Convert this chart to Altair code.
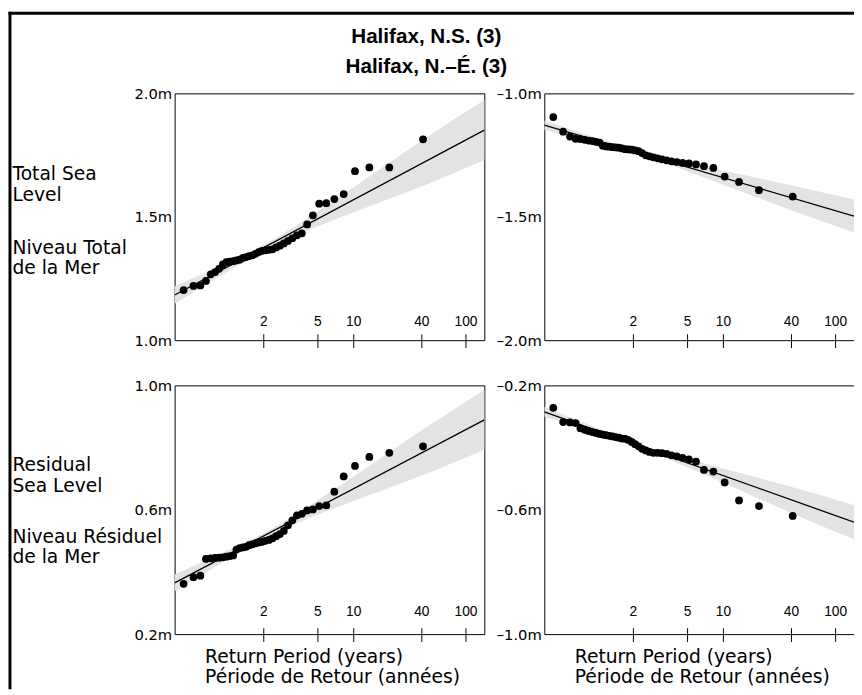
import altair as alt
import numpy as np
import pandas as pd

# ---------------- data ----------------
N_YEARS = 40
RETURN_PERIODS = [2, 5, 10, 40, 100]
TICK_LABELS = ["2", "5", "10", "40", "100"]

TITLE_TEXT = "Halifax, N.S. (3)\nHalifax, N.–É. (3)"
ROW_TOP_EN = "Total Sea\nLevel"
ROW_TOP_FR = "Niveau Total\nde la Mer"
ROW_BOT_EN = "Residual\nSea Level"
ROW_BOT_FR = "Niveau Résiduel\nde la Mer"
X_TITLE = "Return Period (years)\nPériode de Retour (années)"

# annual extremes, sorted by rank (1 = smallest return period)
total_high = [1.203, 1.220, 1.222, 1.240, 1.267, 1.276, 1.289, 1.307, 1.316, 1.318,
              1.320, 1.323, 1.326, 1.333, 1.337, 1.341, 1.344, 1.350, 1.357, 1.362,
              1.364, 1.366, 1.368, 1.376, 1.383, 1.392, 1.402, 1.413, 1.425, 1.433,
              1.469, 1.506, 1.553, 1.555, 1.572, 1.592, 1.685, 1.700, 1.700, 1.814]
total_low = [-1.096, -1.155, -1.175, -1.184, -1.185, -1.188, -1.191, -1.193, -1.196, -1.199,
             -1.212, -1.215, -1.216, -1.218, -1.219, -1.220, -1.223, -1.226, -1.227, -1.228,
             -1.231, -1.234, -1.242, -1.251, -1.255, -1.259, -1.263, -1.267, -1.271, -1.275,
             -1.278, -1.282, -1.284, -1.288, -1.295, -1.302, -1.337, -1.359, -1.392, -1.418]
resid_high = [0.362, 0.383, 0.388, 0.442, 0.444, 0.445, 0.446, 0.447, 0.449, 0.451,
              0.453, 0.472, 0.477, 0.479, 0.481, 0.486, 0.489, 0.492, 0.495, 0.497,
              0.500, 0.503, 0.508, 0.515, 0.522, 0.532, 0.550, 0.566, 0.582, 0.587,
              0.598, 0.601, 0.612, 0.614, 0.658, 0.707, 0.741, 0.770, 0.783, 0.804]
resid_low = [-0.272, -0.318, -0.319, -0.321, -0.338, -0.343, -0.347, -0.350, -0.353, -0.356,
             -0.358, -0.360, -0.362, -0.364, -0.366, -0.368, -0.371, -0.372, -0.376, -0.382,
             -0.389, -0.396, -0.404, -0.409, -0.414, -0.417, -0.417, -0.418, -0.420, -0.425,
             -0.428, -0.433, -0.438, -0.445, -0.472, -0.477, -0.512, -0.570, -0.588, -0.620]

# fitted Gumbel lines (value at left and right edge of the reduced-variate axis)
FIT_X = [-1.5, 4.985]
fit_total_high = [1.183, 1.851]
fit_total_low = [-1.129, -1.497]
fit_resid_high = [0.365, 0.889]
fit_resid_low = [-0.285, -0.640]

# confidence bands
BAND_X = [-1.5, -0.5, 0.5, 1.5, 2.5, 3.5, 5.0]
band_total_high_lo = [1.148, 1.266, 1.377, 1.462, 1.537, 1.610, 1.731]
band_total_high_hi = [1.218, 1.306, 1.401, 1.522, 1.653, 1.786, 1.975]
band_total_low_lo = [-1.148, -1.197, -1.250, -1.316, -1.388, -1.461, -1.565]
band_total_low_hi = [-1.110, -1.175, -1.236, -1.283, -1.324, -1.365, -1.431]
band_resid_high_lo = [0.338, 0.430, 0.518, 0.584, 0.643, 0.700, 0.794]
band_resid_high_hi = [0.392, 0.462, 0.536, 0.631, 0.733, 0.838, 0.986]
band_resid_low_lo = [-0.301, -0.349, -0.401, -0.463, -0.530, -0.599, -0.696]
band_resid_low_hi = [-0.269, -0.331, -0.390, -0.436, -0.478, -0.519, -0.586]

# ---------------- Gumbel probability axis ----------------
ranks = np.arange(1, N_YEARS + 1)
rv_points = list(-np.log(-np.log(ranks / (N_YEARS + 1.0))))
rv_ticks = [float(-np.log(-np.log(1.0 - 1.0 / T))) for T in RETURN_PERIODS]

W = 315
H_TOP = 251
H_BOT = 253
X_DOM = [-1.5, 4.985]
X_SCALE = alt.Scale(domain=X_DOM, nice=False, zero=False)
LABEL_EXPR = "(datum.value < 0 ? '\u2013' : '') + format(abs(datum.value), '.1f') + 'm'"
BAND_COLOR = "#e3e3e3"


def text_layer(txt, x, y, **kw):
    return alt.Chart(pd.DataFrame({"t": [txt]})).mark_text(lineBreak="\n", **kw).encode(
        x=alt.value(x), y=alt.value(y), text="t:N")


def panel(values, fit_vals, band_lo, band_hi, y_dom, y_ticks, h, tick_lab_off, extras):
    ys = alt.Scale(domain=y_dom, nice=False, zero=False)
    yaxis = alt.Axis(values=y_ticks, labelExpr=LABEL_EXPR, ticks=False, domain=False,
                     grid=False, labelPadding=3, labelFont="DejaVu Sans", labelFontSize=15,
                     labelColor="black", labelFlush=False, title=None)
    x_enc = alt.X("rv:Q", scale=X_SCALE, axis=None)
    band = alt.Chart(pd.DataFrame({"rv": BAND_X, "lo": band_lo, "hi": band_hi})).mark_area(
        color=BAND_COLOR, interpolate="monotone", clip=True, opacity=1).encode(
        x=x_enc, y=alt.Y("lo:Q", scale=ys, axis=yaxis), y2="hi:Q")
    fit = alt.Chart(pd.DataFrame({"rv": FIT_X, "v": fit_vals})).mark_line(
        color="black", strokeWidth=1.3, clip=True).encode(
        x=x_enc, y=alt.Y("v:Q", scale=ys, axis=yaxis))
    pts = alt.Chart(pd.DataFrame({"rv": rv_points, "v": values})).mark_circle(
        size=62, color="black", opacity=1).encode(
        x=x_enc, y=alt.Y("v:Q", scale=ys, axis=yaxis))
    tick_df = pd.DataFrame({"rv": rv_ticks, "lab": TICK_LABELS})
    ticks = alt.Chart(tick_df).mark_rule(color="black", strokeWidth=1).encode(
        x=x_enc, y=alt.value(h - 6), y2=alt.value(h + 8))
    labs = alt.Chart(tick_df).mark_text(font="Liberation Sans", fontSize=14, color="black",
                                         baseline="middle").encode(
        x=x_enc, y=alt.value(h - tick_lab_off), text="lab:N")
    return alt.layer(band, fit, pts, ticks, labs, *extras).properties(width=W, height=h)


ROW_FONT = dict(font="DejaVu Sans", fontSize=19, align="left", baseline="middle",
                lineHeight=21, color="black")
XT_FONT = dict(font="DejaVu Sans", fontSize=19, align="left", baseline="middle",
               lineHeight=20.5, color="black")

one = pd.DataFrame({"k": [0]})
border_left = alt.Chart(one).mark_rule(color="black", strokeWidth=3).encode(
    x=alt.value(-167.5), y=alt.value(-83), y2=alt.value(606))
border_top = alt.Chart(one).mark_rule(color="black", strokeWidth=3).encode(
    x=alt.value(-169), x2=alt.value(692), y=alt.value(-81.5))
title = text_layer(TITLE_TEXT, 256, -57, font="Liberation Sans", fontSize=21,
                   fontWeight="bold", align="center", baseline="middle", lineHeight=30,
                   color="black")

tl = panel(total_high, fit_total_high, band_total_high_lo, band_total_high_hi,
           [1.0, 2.0], [1.0, 1.5, 2.0], H_TOP, 18,
           [border_left, border_top, title,
            text_layer(ROW_TOP_EN, -165, 82, **ROW_FONT),
            text_layer(ROW_TOP_FR, -165, 157, **ROW_FONT)])
tr = panel(total_low, fit_total_low, band_total_low_lo, band_total_low_hi,
           [-2.0, -1.0], [-2.0, -1.5, -1.0], H_TOP, 18, [])
bl = panel(resid_high, fit_resid_high, band_resid_high_lo, band_resid_high_hi,
           [0.2, 1.0], [0.2, 0.6, 1.0], H_BOT, 22,
           [text_layer(ROW_BOT_EN, -165, 81, **ROW_FONT),
            text_layer(ROW_BOT_FR, -165, 154, **ROW_FONT),
            text_layer(X_TITLE, 31, 276, **XT_FONT)])
br = panel(resid_low, fit_resid_low, band_resid_low_lo, band_resid_low_hi,
           [-1.0, -0.2], [-1.0, -0.6, -0.2], H_BOT, 22,
           [text_layer(X_TITLE, 31, 276, **XT_FONT)])

chart = alt.concat(tl, tr, bl, br, columns=2, spacing={"row": 46, "column": 61},
                   bounds="flush").properties(
    padding={"left": -1.5, "top": -4, "right": -3, "bottom": -5},
    background="white",
).configure_view(stroke="black", strokeWidth=1)

chart.save("out.html", embed_options={"renderer": "svg", "actions": False})
